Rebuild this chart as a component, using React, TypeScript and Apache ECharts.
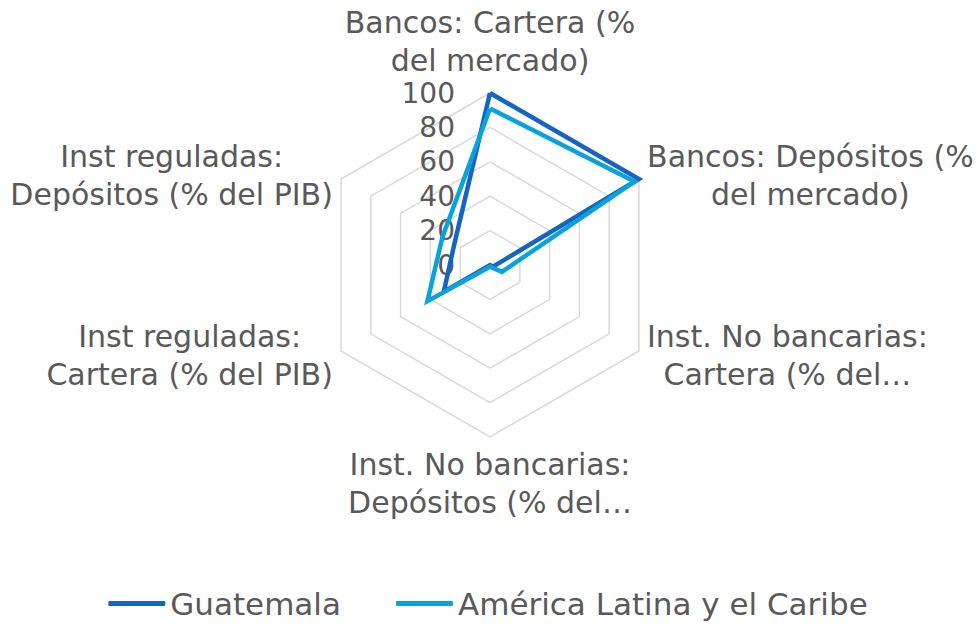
import React, { useEffect, useRef } from 'react';
import * as echarts from 'echarts';

// Categories in clockwise order starting at the top (as in the reference)
const categories: string[] = [
  'Bancos: Cartera (%\ndel mercado)',
  'Bancos: Depósitos (%\ndel mercado)',
  'Inst. No bancarias:\nCartera (% del…',
  'Inst. No bancarias:\nDepósitos (% del…',
  'Inst reguladas:\nCartera (% del PIB)',
  'Inst reguladas:\nDepósitos (% del PIB)',
];
const seriesNames: string[] = ['Guatemala', 'América Latina y el Caribe'];
const guatemala: number[] = [100, 100, 2, 0, 31, 24];
const latam: number[] = [91, 97, 8, 1, 42, 32];
const axisMin = 0;
const axisMax = 100;
const splitCount = 5; // ticks 0,20,40,60,80,100

const FONT = 'DejaVu Sans';
const NAME_SIZE = 30;
const LINE_H = 38;
const TEXT_COLOR = '#595959';
const COLORS = ['#1565C0', '#0AA2DA'];

function measure(text: string, size: number): number {
  const ctx = document.createElement('canvas').getContext('2d');
  if (!ctx) return text.length * size * 0.6;
  ctx.font = `${size}px "${FONT}"`;
  return ctx.measureText(text).width;
}

export default function App() {
  const ref = useRef<HTMLDivElement>(null);
  useEffect(() => {
    if (!ref.current) return;
    const chart = echarts.init(ref.current, undefined, { renderer: 'svg' });

    // ECharts lays indicators counter-clockwise; reorder to get clockwise layout
    const order = [0, 5, 4, 3, 2, 1];
    const rich: Record<string, any> = {};
    categories.forEach((c, i) => {
      const w = Math.max(...c.split('\n').map((l) => measure(l, NAME_SIZE)));
      rich['n' + i] = {
        width: Math.ceil(w) + 2,
        align: 'center',
        fontSize: NAME_SIZE,
        fontFamily: FONT,
        color: TEXT_COLOR,
        lineHeight: LINE_H,
      };
    });

    const indicator = order.map((i, k) => {
      const ind: any = { name: categories[i], min: axisMin, max: axisMax };
      if (k === 0) {
        ind.axisLabel = {
          show: true,
          fontSize: 28,
          fontFamily: FONT,
          color: TEXT_COLOR,
          margin: 35,
          showMinLabel: true,
          showMaxLabel: true,
        };
      }
      return ind;
    });

    chart.setOption({
      animation: false,
      backgroundColor: '#ffffff',
      legend: {
        bottom: 2,
        left: 'center',
        itemWidth: 57,
        itemHeight: 5,
        itemGap: 55,
        icon: 'roundRect',
        textStyle: { fontSize: 31, fontFamily: FONT, color: TEXT_COLOR },
        data: seriesNames,
      },
      radar: {
        center: [490, 265],
        radius: 172,
        startAngle: 90,
        splitNumber: splitCount,
        shape: 'polygon',
        indicator,
        nameGap: 8,
        axisName: {
          color: TEXT_COLOR,
          fontSize: NAME_SIZE,
          fontFamily: FONT,
          lineHeight: LINE_H,
          formatter: (name: string) => {
            const i = categories.indexOf(name);
            return name
              .split('\n')
              .map((l) => `{n${i}|${l}}`)
              .join('\n');
          },
          rich,
        },
        axisLine: { show: false },
        axisTick: { show: false },
        axisLabel: { show: false },
        splitLine: { lineStyle: { color: '#D9D9D9', width: 1.5 } },
        splitArea: { show: false },
      },
      series: [
        {
          type: 'radar',
          symbol: 'none',
          data: [
            {
              name: seriesNames[0],
              value: order.map((i) => guatemala[i]),
              lineStyle: { color: COLORS[0], width: 4.5, join: 'miter' },
              itemStyle: { color: COLORS[0] },
            },
            {
              name: seriesNames[1],
              value: order.map((i) => latam[i]),
              lineStyle: { color: COLORS[1], width: 4.5, join: 'miter' },
              itemStyle: { color: COLORS[1] },
            },
          ],
        },
      ],
    });
    return () => chart.dispose();
  }, []);

  return (
    <div
      ref={ref}
      style={{ position: 'fixed', left: 0, top: 0, width: 976, height: 626, background: '#fff' }}
    />
  );
}
